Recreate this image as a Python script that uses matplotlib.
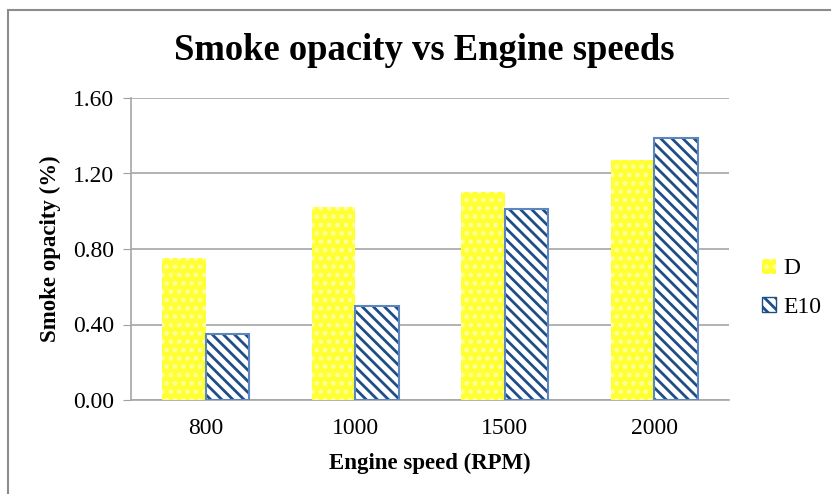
import numpy as np
import matplotlib
matplotlib.use('Agg')
import matplotlib.pyplot as plt
from matplotlib.patches import Rectangle

speeds = ['800', '1000', '1500', '2000']
d_vals = [0.75, 1.02, 1.10, 1.27]
e10_vals = [0.35, 0.50, 1.01, 1.39]
y_ticks = [0.0, 0.4, 0.8, 1.2, 1.6]

plt.rcParams['font.family'] = ['Liberation Serif', 'DejaVu Serif']
plt.rcParams['hatch.linewidth'] = 2.0

fig = plt.figure(figsize=(8.31, 4.94), dpi=100)
ax = fig.add_axes([131/831, 1 - 400/494, 598/831, 302/494])

# outer chart frame
fig.patches.append(Rectangle((8/831, -0.05), 1.2, 1 - 10/494 + 0.05,
                             transform=fig.transFigure, fill=False,
                             edgecolor='#8c8c8c', linewidth=1.5))

x = np.arange(len(speeds))
w = 0.29
ax.bar(x - w/2, d_vals, w, color='#FFFF33', edgecolor='#FFFFA0',
       hatch='..', linewidth=0, label='D', zorder=3)
ax.bar(x + w/2, e10_vals, w, color='white', edgecolor='#1F4E86',
       hatch='\\\\\\', linewidth=0, zorder=3)
ax.bar(x + w/2, e10_vals, w, fill=False, edgecolor='#5B86C0',
       linewidth=1.5, zorder=4)
# legend proxy for E10
ax.bar([0], [0], 0, color='white', edgecolor='#1F4E86', hatch='\\\\\\',
       linewidth=1, label='E10')

ax.set_xlim(-0.5, len(speeds) - 0.5)
ax.set_ylim(0, 1.6)
ax.set_yticks(y_ticks)
ax.set_yticklabels(['%.2f' % v for v in y_ticks])
ax.set_xticks(x)
ax.set_xticklabels(speeds)
ax.tick_params(axis='both', labelsize=17, colors='black')
ax.tick_params(axis='y', length=6, color='#a0a0a0', pad=6)
ax.tick_params(axis='x', length=0, pad=13)
ax.yaxis.grid(True, color='#a6a6a6', linewidth=1.2, zorder=0)
ax.set_axisbelow(True)
for s in ['top', 'right']:
    ax.spines[s].set_visible(False)
for s in ['left', 'bottom']:
    ax.spines[s].set_color('#a6a6a6')
    ax.spines[s].set_linewidth(1.2)

ax.set_xlabel('Engine speed (RPM)', fontsize=16.5, fontweight='bold', labelpad=10)
ax.set_ylabel('Smoke opacity (%)', fontsize=16.5, fontweight='bold', labelpad=9)
fig.text(424.5/831, 1 - 51/494, 'Smoke opacity vs Engine speeds', ha='center',
         va='center', fontsize=26.4, fontweight='bold')

leg = ax.legend(loc='center left', bbox_to_anchor=(1.02, 0.37), frameon=False,
                fontsize=17, handlelength=0.6, handleheight=0.6,
                handletextpad=0.3, labelspacing=0.75)

fig.savefig('out.png', dpi=100)
